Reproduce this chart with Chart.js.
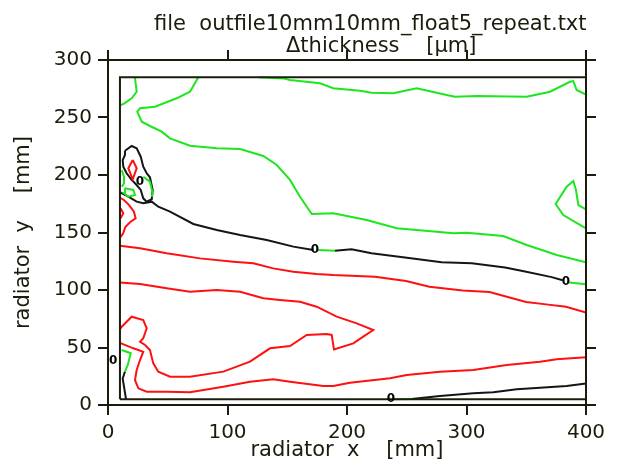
<!DOCTYPE html>
<html>
	<head>
		<meta charset="utf-8">
		<title>thickness contours</title>
		<script src="https://cdn.jsdelivr.net/npm/chart.js"></script>
		<style>
			body {
				margin: 0;
				background: #ffffff;
			}
		</style>
	</head>
	<body>
		<canvas id="contour" width="624" height="469"></canvas>
		<script>
			// axis ranges and tick labels
			const xTicks = [0, 100, 200, 300, 400];
			const yTicks = [0, 50, 100, 150, 200, 250, 300];
			const titleLines = ['file  outfile10mm10mm_float5_repeat.txt', 'Δthickness    [μm]'];
			const xTitle = 'radiator  x    [mm]';
			const yTitle = 'radiator  y    [mm]';

			// measured area (inner frame)
			const frame = [[10, 5], [400, 5], [400, 285], [10, 285], [10, 5]];

			// green contours
			const greenTop = [[75.6, 285], [68.6, 272.4], [57.5, 266.7], [39.3, 259.4], [26.8, 258], [24.5, 255], [28.2, 246.3], [35.1, 242.6], [44.9, 237.7], [51.9, 231.9], [68.6, 225.5], [91, 223.2], [110.5, 222.6], [130, 216.5], [141.2, 208.7], [152.3, 195.7], [160.7, 181.1], [170.5, 166.1], [188.5, 166.7], [216.5, 160.9], [241.6, 153.7], [258.3, 152.2], [289, 149.3], [300.2, 149.8], [330.8, 147], [350.4, 139.1], [375.5, 130.4], [400, 124]];
			const greenUpper = [[126, 285], [146.7, 284], [152.3, 282.6], [177.4, 279.7], [188.5, 275.4], [210.9, 273.3], [220.7, 271.6], [238.7, 271], [258.3, 275.4], [283.4, 269.6], [290.4, 268.1], [308.5, 268.7], [350.4, 268.1], [369.9, 272.4], [386.6, 281.1], [389.4, 281.7], [392.2, 273.9], [400, 270]];
			const greenCorner = [[22.5, 285], [24, 272.4], [19.8, 266.7], [12.8, 261.7], [10, 260.5]];
			const greenRight = [[400, 170], [393.6, 173.9], [391.6, 187], [389.4, 194.8], [383.8, 189.8], [374.6, 174.8], [381, 165.2], [400, 153.6]];
			const greenLoopRight = [[29.5, 198.5], [35.1, 194.2], [37.4, 184.1], [36.6, 181.1]];
			const greenLoopLeft = [[11.5, 204.3], [13.4, 198.5], [13.4, 192.8], [11.5, 189.8]];
			const greenSmall = [[14.2, 188.4], [21.2, 187], [22.6, 182.6], [17, 181.1], [13.4, 184.1], [14.2, 188.4]];
			const greenMid = [[175.9, 134.8], [190, 134.2]];
			const greenEdge = [[386, 106.5], [400, 105]];
			const greenBottom = [[239.5, 5], [254.1, 5.2]];
			const greenBottomLeft = [[11.4, 47.8], [19, 45], [16.6, 35], [14.2, 29]];

			// black (zero) contours
			const blackLoop = [[14.2, 221.1], [19.8, 225.2], [24, 223.2], [27.4, 215.9], [29.5, 207.2], [32.4, 201.5], [35.1, 198], [37.4, 187], [36.6, 178.9], [32.4, 176.8], [29.5, 179.7], [27.4, 187], [24, 191.3], [19.8, 195.7], [15.6, 201.5], [12.8, 207.2], [12.3, 213], [14.2, 217.4], [14.2, 221.1]];
			const blackMain = [[10, 185], [17, 181.1], [24, 176.8], [29.5, 175.4], [36.6, 176.8], [42.1, 172.4], [51.9, 168.1], [71.4, 157.4], [91, 152.2], [110.5, 147.8], [132.8, 143.5], [155.1, 137.7], [171.8, 134.8]];
			const blackRight = [[190, 134.2], [203.8, 135.4], [220.5, 132], [248.5, 128.2], [279.2, 124.2], [304.4, 123.3], [332.3, 119.5], [349, 116.1], [371.3, 111.2], [380.5, 108.5]];
			const blackBottom = [[254.1, 5.2], [277.8, 7.8], [305.7, 10.2], [322.4, 11], [342, 13.6], [361.5, 15], [383.8, 16.5], [400, 18.8]];
			const blackBottomLeft = [[14.2, 29], [12.3, 23], [15.1, 5]];

			// red contours
			const redUpper = [[10, 138.5], [26.8, 136.3], [49.1, 131.9], [77, 127.5], [104.9, 124.6], [121.6, 123.2], [138.3, 118.8], [155.1, 115.9], [174.6, 113.9], [188.5, 113], [208.4, 112.2], [223.4, 111.6], [249.4, 107.8], [268.9, 102.9], [296.8, 99.6], [319.2, 98.2], [349.9, 89.5], [366.6, 87.5], [383.3, 85.5], [400, 80.3]];
			const redMid = [[10, 106.5], [26.8, 105.2], [49.1, 101.5], [68.6, 98.5], [91, 100], [110.5, 98.5], [130, 92.8], [143.9, 91.3], [160.7, 89.8], [174.6, 85.5], [191.4, 76.8], [208.1, 71], [222, 65.2], [213.6, 59.4], [205.3, 53.6], [189.1, 48.4], [187.2, 60.9], [183, 61.7], [166.3, 60.9], [152.3, 51.3], [135.6, 49.3], [118.8, 37.7], [96.5, 29], [68.6, 24.6], [51.9, 24.6], [42.1, 29], [37.9, 36.2], [35.1, 47.8], [31, 52.2], [26.8, 55], [29.5, 58], [32.4, 66.7], [29.5, 73.9], [19.8, 76.8], [11.5, 68.1], [10, 66]];
			const redLow = [[10, 54], [21.2, 49.3], [29.5, 46.3], [26.8, 39.1], [24, 30.4], [22.6, 21.7], [25.4, 14.5], [32.4, 11.6], [49.1, 11.6], [68.6, 11], [96.5, 15.9], [118.8, 20.3], [138.3, 22.3], [152.3, 20.3], [180.2, 16.5], [188.5, 16.5], [202.5, 19.4], [236, 23.2], [250, 26.1], [277.8, 29], [305.7, 30.4], [333.6, 34.8], [361.5, 37.7], [375.5, 39.7], [400, 41.5]];
			const redLeft = [[10.5, 180], [13.3, 178.3], [17.5, 174], [21.7, 168.1], [23.1, 162.3], [18.9, 159.4], [14.6, 155], [12.7, 149.3], [10.5, 146]];
			const redSmall = [[10.5, 171], [12.8, 166.7], [10.5, 162.3]];
			const redDiamond = [[20.7, 213], [24, 205.8], [20.7, 196.3], [17, 205.8], [20.7, 213]];

			// contour level labels "0"
			const zeroLabels = [[26.8, 194.2], [173.2, 134.8], [383.3, 107], [236.8, 5], [4.4, 38.3]];

			const axisColor = '#1c1c0c';
			const green = '#1ee61e';
			const red = '#ff1010';
			const black = '#151515';
			const tickFont = { family: 'DejaVu Sans', size: 20 };
			const titleFont = { family: 'DejaVu Sans', size: 21 };

			function line(points, color, width) {
				return {
					data: points.map(p => ({ x: p[0], y: p[1] })),
					showLine: true,
					borderColor: color,
					borderWidth: width,
					pointRadius: 0,
					tension: 0,
					fill: false
				};
			}

			const datasets = [
				line(frame, axisColor, 2),
				line(redUpper, red, 2),
				line(redMid, red, 2),
				line(redLow, red, 2),
				line(redLeft, red, 2),
				line(redSmall, red, 2),
				line(redDiamond, red, 2),
				line(greenTop, green, 2),
				line(greenUpper, green, 2),
				line(greenCorner, green, 2),
				line(greenRight, green, 2),
				line(greenLoopRight, green, 2),
				line(greenLoopLeft, green, 2),
				line(greenSmall, green, 2),
				line(greenMid, green, 2),
				line(greenEdge, green, 2),
				line(greenBottom, green, 2),
				line(greenBottomLeft, green, 2),
				line(blackLoop, black, 2),
				line(blackMain, black, 2),
				line(blackRight, black, 2),
				line(blackBottom, black, 2),
				line(blackBottomLeft, black, 2)
			];

			// title lines and "0" labels
			const textPlugin = {
				id: 'texts',
				afterDatasetsDraw(chart) {
					const ctx = chart.ctx;
					const xs = chart.scales.x;
					const ys = chart.scales.y;
					ctx.save();
					ctx.fillStyle = '#000000';
					ctx.font = 'bold 12px "DejaVu Sans"';
					ctx.textAlign = 'center';
					ctx.textBaseline = 'middle';
					zeroLabels.forEach(p => {
						ctx.fillText('0', xs.getPixelForValue(p[0]), ys.getPixelForValue(p[1]));
					});
					ctx.font = '21px "DejaVu Sans"';
					ctx.textAlign = 'left';
					ctx.textBaseline = 'alphabetic';
					ctx.fillStyle = axisColor;
					ctx.fillText(titleLines[0], 154, 30);
					ctx.fillText(titleLines[1], 286, 52);
					ctx.restore();
				}
			};

			function gridOpts() {
				return {
					drawOnChartArea: false,
					tickLength: 10,
					color: axisColor,
					lineWidth: 2
				};
			}
			const borderOpts = { color: axisColor, width: 2 };

			new Chart(document.getElementById('contour'), {
				type: 'scatter',
				data: { datasets: datasets },
				options: {
					responsive: false,
					animation: false,
					devicePixelRatio: 1,
					layout: { padding: 0 },
					plugins: {
						legend: { display: false },
						tooltip: { enabled: false },
						title: { display: false }
					},
					scales: {
						x: {
							type: 'linear',
							position: 'bottom',
							min: xTicks[0],
							max: xTicks[xTicks.length - 1],
							afterBuildTicks: s => { s.ticks = xTicks.map(v => ({ value: v })); },
							afterFit: s => { s.height = 64; },
							ticks: { color: axisColor, font: tickFont, padding: 6, maxRotation: 0 },
							grid: gridOpts(),
							border: borderOpts,
							title: { display: true, text: xTitle, color: axisColor, font: titleFont, padding: { top: 0, bottom: 6 } }
						},
						x2: {
							type: 'linear',
							position: 'top',
							min: xTicks[0],
							max: xTicks[xTicks.length - 1],
							afterBuildTicks: s => { s.ticks = xTicks.map(v => ({ value: v })); },
							afterFit: s => { s.height = 60; },
							ticks: { display: false },
							grid: gridOpts(),
							border: borderOpts
						},
						y: {
							type: 'linear',
							position: 'left',
							min: yTicks[0],
							max: yTicks[yTicks.length - 1],
							afterBuildTicks: s => { s.ticks = yTicks.map(v => ({ value: v })); },
							afterFit: s => { s.width = 108; },
							ticks: { color: axisColor, font: tickFont, padding: 6 },
							grid: gridOpts(),
							border: borderOpts,
							title: { display: true, text: yTitle, color: axisColor, font: titleFont, padding: { top: 11, bottom: 0 } }
						},
						y2: {
							type: 'linear',
							position: 'right',
							min: yTicks[0],
							max: yTicks[yTicks.length - 1],
							afterBuildTicks: s => { s.ticks = yTicks.map(v => ({ value: v })); },
							afterFit: s => { s.width = 38; },
							ticks: { display: false },
							grid: gridOpts(),
							border: borderOpts
						}
					}
				},
				plugins: [textPlugin]
			});
		</script>
	</body>
</html>
